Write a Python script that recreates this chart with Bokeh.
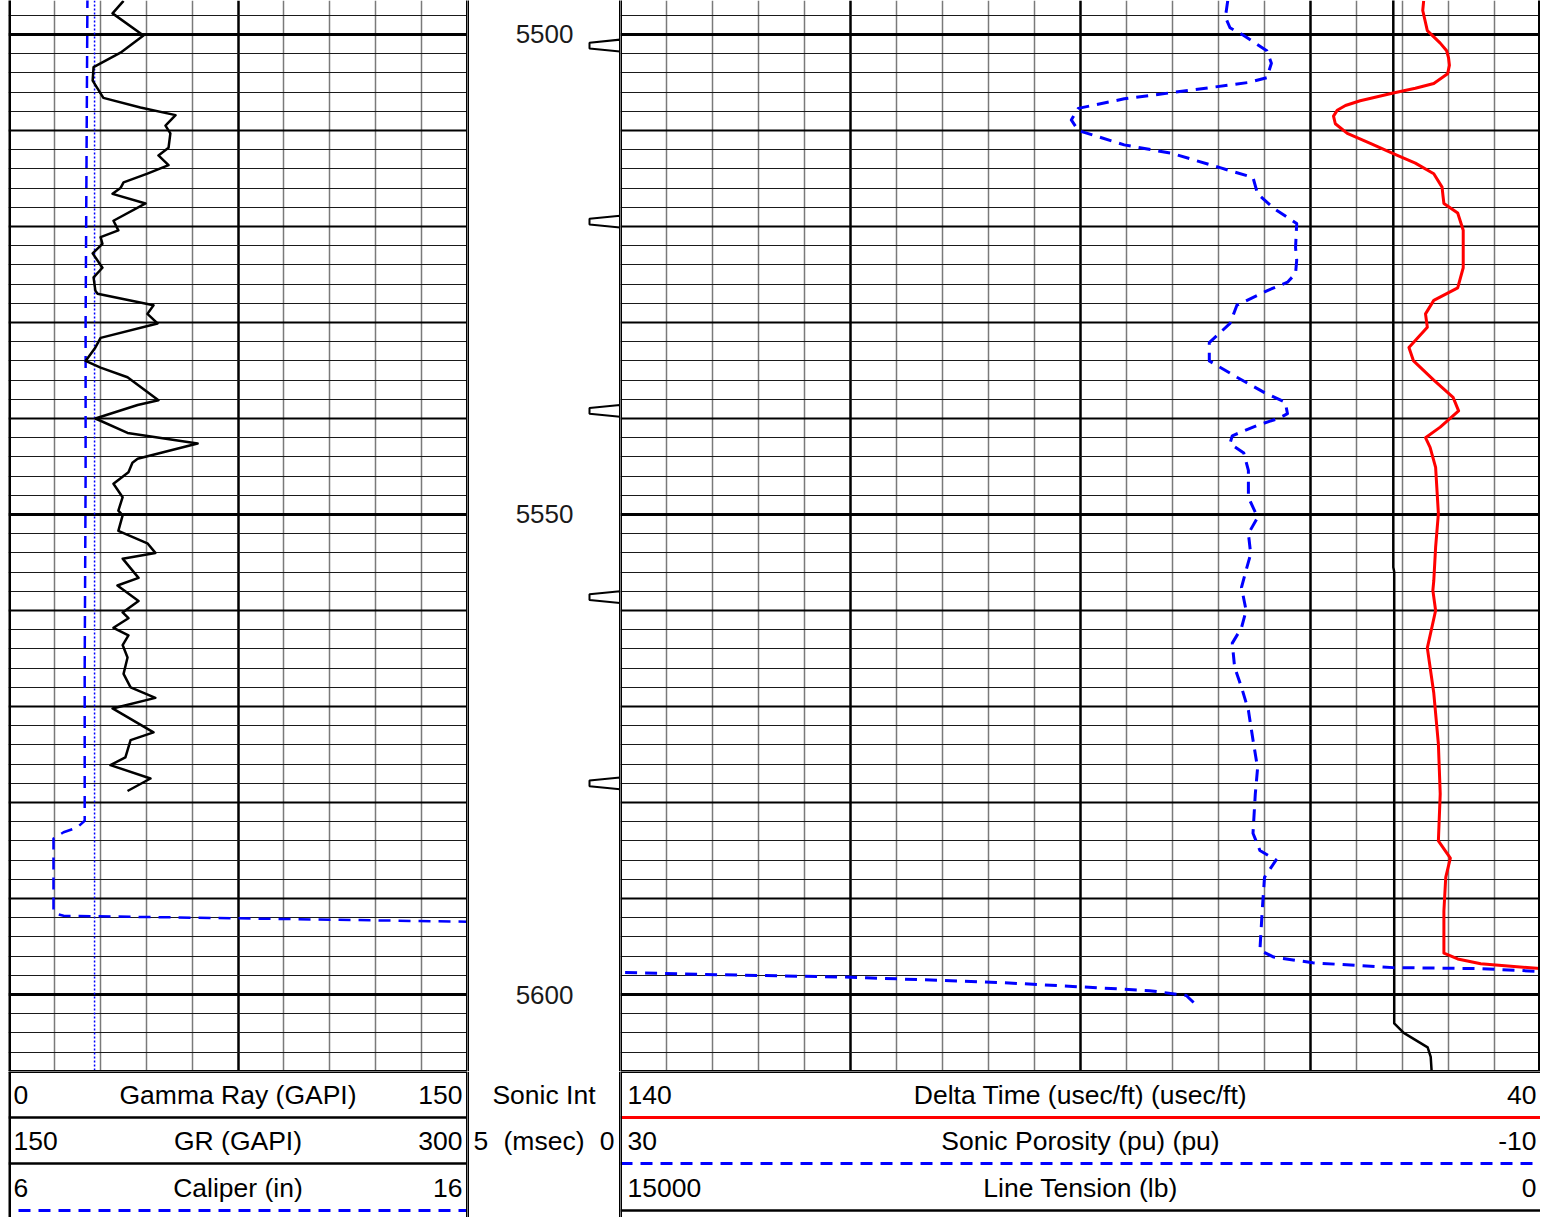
import numpy as np
from bokeh.plotting import figure
from bokeh.models import Range1d, FixedTicker, Grid
from bokeh.layouts import row, column
from bokeh.embed import file_html
from bokeh.resources import INLINE
from bokeh.core.properties import value

# ---------------- data ----------------
DEPTH_TOP = 5496.46
DEPTH_BOTTOM = 5608.02
DEPTH_LABELS = [5500, 5550, 5600]

GR_SCALE = (0, 150)
GR2_SCALE = (150, 300)
CALI_SCALE = (6, 16)
DT_SCALE = (140, 40)
PHI_SCALE = (30, -10)
TENS_SCALE = (15000, 0)
SONIC_INT_SCALE = (5, 0)

GR_DEPTH = [5496.5, 5497.8, 5500.1, 5501.9, 5503.4, 5504.8, 5506.6, 5507.6, 5508.4, 5509.5,
            5510.3, 5511.8, 5512.6, 5513.6, 5514.5, 5515.4, 5516.0, 5516.6, 5517.6, 5519.4,
            5520.4, 5521.1, 5521.8, 5522.8, 5524.3, 5525.3, 5526.7, 5527.0, 5528.2, 5529.1,
            5530.1, 5531.6, 5532.6, 5534.0, 5534.7, 5535.7, 5538.1, 5538.6, 5540.0, 5541.5,
            5542.6, 5544.2, 5544.6, 5545.6, 5546.8, 5548.2, 5549.6, 5550.1, 5551.7, 5553.0,
            5554.0, 5554.6, 5556.6, 5557.4, 5559.0, 5560.2, 5560.8, 5561.8, 5562.6, 5563.6,
            5564.9, 5566.6, 5568.0, 5569.1, 5570.2, 5572.7, 5573.5, 5575.3, 5576.1, 5577.5,
            5578.8]
GR_VALUE = [37.6, 34.0, 44.1, 36.6, 27.8, 27.5, 31.0, 43.1, 54.6, 51.3,
            52.9, 52.3, 49.0, 52.3, 45.4, 37.6, 36.6, 34.0, 44.8, 34.3,
            35.9, 30.1, 30.7, 27.5, 30.7, 27.8, 28.4, 29.1, 47.4, 45.4,
            48.7, 30.1, 28.4, 25.2, 30.1, 38.9, 49.0, 42.2, 28.4, 38.9,
            61.8, 42.2, 40.5, 39.2, 34.3, 37.3, 35.9, 37.3, 35.9, 45.4,
            48.0, 37.3, 42.5, 35.6, 42.5, 37.3, 39.2, 34.3, 39.2, 37.3,
            38.9, 37.6, 39.9, 48.0, 34.0, 47.4, 39.9, 38.2, 33.3, 46.4,
            38.9]

CALI_DEPTH = [5496.0, 5513.0, 5530.0, 5546.0, 5566.0, 5581.9, 5582.6, 5583.1, 5583.75,
              5591.3, 5591.6, 5591.8, 5593.4]
CALI_VALUE = [7.72, 7.70, 7.68, 7.68, 7.66, 7.66, 7.5, 7.2, 6.98,
              6.98, 7.05, 7.2, 30.0]
BIT_SIZE = 7.875

DT_DEPTH = [5496.5, 5497.5, 5499.6, 5500.9, 5501.7, 5502.4, 5503.2, 5504.1, 5505.1, 5505.6,
            5506.1, 5506.9, 5507.4, 5507.9, 5508.5, 5509.3, 5510.3, 5511.35, 5512.4, 5513.4,
            5514.5, 5515.9, 5516.8, 5517.6, 5518.6, 5520.4, 5522.5, 5524.3,
            5526.4, 5527.7, 5529.1, 5530.5, 5532.6, 5534.0, 5536.0, 5537.8, 5539.2, 5540.9,
            5542.0, 5543.0, 5545.1, 5549.9, 5553.4, 5556.9, 5557.9, 5560.0, 5563.9, 5568.6,
            5573.9, 5579.1, 5584.0, 5585.8, 5587.8, 5591.3, 5595.7, 5596.3, 5596.8, 5597.3,
            5597.7]
DT_VALUE = [52.7, 52.8, 52.3, 50.9, 50.2, 50.0, 49.9, 50.1, 51.6, 53.6,
            56.0, 59.6, 61.2, 62.1, 62.5, 62.3, 61.0, 58.5, 56.0, 53.6,
            51.6, 50.7, 50.6, 50.5, 49.0, 48.4, 48.4, 48.4,
            49.0, 51.6, 52.5, 52.3, 54.3, 53.8, 51.6, 49.5, 48.9, 50.9,
            52.5, 52.0, 51.4, 51.1, 51.4, 51.6, 51.7, 51.4, 52.3, 51.6,
            51.1, 50.9, 51.1, 49.8, 50.3, 50.5, 50.5, 49.0, 46.5, 40.0,
            30.0]

PHI_DEPTH = [5496.5, 5498.2, 5499.3, 5500.1, 5501.7, 5503.0, 5504.5, 5505.0, 5505.8, 5506.7,
             5507.7, 5508.9, 5510.0, 5511.5, 5512.4, 5513.9, 5514.9, 5516.6, 5518.1, 5519.7,
             5522.2, 5523.5, 5524.9, 5525.8, 5526.7, 5528.2, 5530.1, 5532.1, 5534.0, 5535.7,
             5537.3, 5538.3, 5539.5, 5540.0, 5540.7, 5541.8, 5542.6, 5543.6, 5545.4, 5548.2,
             5550.3, 5552.0, 5554.1, 5555.8, 5557.6, 5560.0, 5561.8, 5563.4, 5565.9, 5568.0,
             5570.4, 5573.5, 5576.4, 5579.1, 5583.2, 5585.0, 5586.0, 5587.8, 5591.3, 5595.4,
             5596.1, 5596.7, 5597.2, 5597.3, 5597.6,
             5597.7, 5597.9, 5598.2, 5598.75, 5599.2, 5599.6, 5600.1, 5601.25]
PHI_VALUE = [3.6, 3.7, 3.5, 2.9, 1.9, 1.7, 1.9, 2.7, 5.2, 8.1,
             10.1, 10.4, 10.1, 8.1, 6.0, 3.9, 2.5, 2.3, 1.6, 0.6,
             0.65, 0.6, 0.65, 1.0, 1.9, 3.2, 3.5, 4.4, 4.4, 3.2,
             2.0, 1.1, 1.0, 1.4, 2.3, 3.4, 3.5, 2.9, 2.7, 2.7,
             2.3, 2.7, 2.6, 2.8, 3.0, 2.8, 3.0, 3.4, 3.3, 3.0,
             2.7, 2.5, 2.3, 2.4, 2.5, 2.2, 1.5, 2.0, 2.1, 2.2,
             1.6, -0.1, -3.6, -7.4, -10.0,
             -10.2, -13.5, -20.0, -26.5, -30.0, -33.0, -34.6, -35.1]

TENS_DEPTH = [5496.0, 5555.5, 5556.0, 5603.0, 5604.0, 5605.5, 5606.5, 5608.5]
TENS_VALUE = [2400, 2400, 2385, 2385, 2230, 1840, 1790, 1770]

SONIC_INT_MARKS = [5501.15, 5519.5, 5539.2, 5558.6, 5578.0]

LEFT_HEADER = [(GR_SCALE, "Gamma Ray (GAPI)"), (GR2_SCALE, "GR (GAPI)"), (CALI_SCALE, "Caliper (in)")]
RIGHT_HEADER = [(DT_SCALE, "Delta Time (usec/ft) (usec/ft)"),
                (PHI_SCALE, "Sonic Porosity (pu) (pu)"),
                (TENS_SCALE, "Line Tension (lb)")]
SONIC_INT_TITLE = "Sonic Int"
SONIC_INT_UNIT = "(msec)"

# ---------------- styling ----------------
FONT = value("Liberation Sans")
FS = value("26.5px")
BLUE = "#0000ff"
RED = "#ff0000"
DASH = "12 8"
PAD = 8

W_LEFT, W_DEPTH, W_RIGHT = 459, 153, 920
H_TRACK, H_HEAD = 1071, 146


def base_fig(width, height, x_range, y_range, pad=0):
    p = figure(width=width + pad, height=height, x_range=x_range, y_range=y_range,
               x_axis_type=None, y_axis_type=None, toolbar_location=None,
               output_backend="svg", min_border=0, min_border_left=pad,
               outline_line_color=None,
               background_fill_color="white", border_fill_color="white")
    return p


def add_depth_grid(p):
    thin = [d for d in range(5498, 5608, 2) if d % 10 != 0]
    med = [d for d in range(5510, 5608, 10) if d % 50 != 0]
    thick = [d for d in range(5500, 5608, 50)]
    p.add_layout(Grid(dimension=1, ticker=FixedTicker(ticks=thin),
                      grid_line_color="#1a1a1a", grid_line_width=1))
    p.add_layout(Grid(dimension=1, ticker=FixedTicker(ticks=med),
                      grid_line_color="#000000", grid_line_width=2))
    p.add_layout(Grid(dimension=1, ticker=FixedTicker(ticks=thick),
                      grid_line_color="#000000", grid_line_width=3))


def add_vgrid(p, thin, bold):
    p.add_layout(Grid(dimension=0, ticker=FixedTicker(ticks=thin),
                      grid_line_color="#7a7a7a", grid_line_width=1.5))
    p.add_layout(Grid(dimension=0, ticker=FixedTicker(ticks=bold),
                      grid_line_color="#000000", grid_line_width=2.5))


# ---------------- left track ----------------
left = base_fig(W_LEFT, H_TRACK, Range1d(*GR_SCALE), Range1d(DEPTH_BOTTOM, DEPTH_TOP), PAD)
left.extra_x_ranges = {"cali": Range1d(*CALI_SCALE)}
step = (GR_SCALE[1] - GR_SCALE[0]) / 10
left_lines = [GR_SCALE[0] + i * step for i in range(1, 10)]
add_vgrid(left, [v for i, v in enumerate(left_lines) if i != 4], [left_lines[4]])
add_depth_grid(left)
left.line(x=[BIT_SIZE, BIT_SIZE], y=[DEPTH_TOP - 5, DEPTH_BOTTOM + 5], x_range_name="cali",
          line_color=BLUE, line_width=1.5, line_dash="2 2")
left.line(x=CALI_VALUE, y=CALI_DEPTH, x_range_name="cali", line_color=BLUE,
          line_width=2.5, line_dash=DASH, line_join="round")
left.line(x=GR_VALUE, y=GR_DEPTH, line_color="black", line_width=2.5, line_join="round")
left.segment(x0=[GR_SCALE[0]], y0=[DEPTH_TOP - 5], x1=[GR_SCALE[0]], y1=[DEPTH_BOTTOM + 5],
             line_color="black", line_width=5)
left.segment(x0=[GR_SCALE[1]], y0=[DEPTH_TOP - 5], x1=[GR_SCALE[1]], y1=[DEPTH_BOTTOM + 5],
             line_color="black", line_width=3)
left.segment(x0=[GR_SCALE[0]], y0=[DEPTH_BOTTOM], x1=[GR_SCALE[1]], y1=[DEPTH_BOTTOM],
             line_color="black", line_width=3)

# ---------------- depth track ----------------
depth = base_fig(W_DEPTH, H_TRACK, Range1d(0, W_DEPTH), Range1d(DEPTH_BOTTOM, DEPTH_TOP))
depth.text(x=[106] * len(DEPTH_LABELS), y=DEPTH_LABELS, text=[str(d) for d in DEPTH_LABELS],
           text_font=FONT, text_font_size=value("26px"), text_align="right",
           text_baseline="middle", text_color="#1a1a1a")
xs = [[122, 153, 153, 122] for _ in SONIC_INT_MARKS]
ys = [[d - 0.3, d - 0.62, d + 0.62, d + 0.3] for d in SONIC_INT_MARKS]
depth.patches(xs, ys, fill_color="white", line_color="black", line_width=2)
for xb in (0, W_DEPTH):
    depth.segment(x0=[xb], y0=[DEPTH_TOP - 5], x1=[xb], y1=[DEPTH_BOTTOM + 5],
                  line_color="black", line_width=3)

# ---------------- right track ----------------
right = base_fig(W_RIGHT, H_TRACK, Range1d(*DT_SCALE), Range1d(DEPTH_BOTTOM, DEPTH_TOP))
right.extra_x_ranges = {"phi": Range1d(*PHI_SCALE), "tens": Range1d(*TENS_SCALE)}
dstep = (DT_SCALE[1] - DT_SCALE[0]) / 20
r_lines = [DT_SCALE[0] + i * dstep for i in range(1, 20)]
add_vgrid(right, [v for i, v in enumerate(r_lines) if (i + 1) % 5 != 0],
          [v for i, v in enumerate(r_lines) if (i + 1) % 5 == 0])
add_depth_grid(right)

right.line(x=TENS_VALUE, y=TENS_DEPTH, x_range_name="tens", line_color="black",
           line_width=2.5, line_join="round")

phi = np.array(PHI_VALUE)
phd = np.array(PHI_DEPTH)
wrap = phi < PHI_SCALE[1]
span = PHI_SCALE[0] - PHI_SCALE[1]
right.line(x=phi[~wrap], y=phd[~wrap], x_range_name="phi", line_color=BLUE,
           line_width=3, line_dash=DASH, line_join="round")
right.line(x=phi[wrap] + span, y=phd[wrap], x_range_name="phi", line_color=BLUE,
           line_width=3, line_dash=DASH, line_join="round")
right.line(x=DT_VALUE, y=DT_DEPTH, line_color=RED, line_width=3, line_join="round")

right.segment(x0=[DT_SCALE[0]], y0=[DEPTH_TOP - 5], x1=[DT_SCALE[0]], y1=[DEPTH_BOTTOM + 5],
              line_color="black", line_width=3)
right.segment(x0=[DT_SCALE[1]], y0=[DEPTH_TOP - 5], x1=[DT_SCALE[1]], y1=[DEPTH_BOTTOM + 5],
              line_color="black", line_width=5)
right.segment(x0=[DT_SCALE[0]], y0=[DEPTH_BOTTOM], x1=[DT_SCALE[1]], y1=[DEPTH_BOTTOM],
              line_color="black", line_width=3)

# ---------------- headers ----------------
ROW_Y = [23, 69, 116]
LINE_Y = [46, 92, 139]


def header_fig(width, pad=0):
    return base_fig(width, H_HEAD, Range1d(0, width), Range1d(H_HEAD, 0), pad)


def fmt(v):
    return str(int(v)) if float(v).is_integer() else str(v)


def header_rows(p, width, rows, styles, lx, rx):
    for (scale, name), y, ly, st in zip(rows, ROW_Y, LINE_Y, styles):
        p.text(x=[lx], y=[y], text=[fmt(scale[0])], text_font=FONT, text_font_size=FS,
               text_align="left", text_baseline="middle", text_color="black")
        p.text(x=[width / 2], y=[y], text=[name], text_font=FONT, text_font_size=FS,
               text_align="center", text_baseline="middle", text_color="black")
        p.text(x=[rx], y=[y], text=[fmt(scale[1])], text_font=FONT, text_font_size=FS,
               text_align="right", text_baseline="middle", text_color="black")
        color, lw, dash, x0 = st
        p.line(x=[x0, width], y=[ly, ly], line_color=color, line_width=lw, line_dash=dash)


lh = header_fig(W_LEFT, PAD)
header_rows(lh, W_LEFT, LEFT_HEADER,
            [("black", 2.5, "solid", 0), ("black", 2.5, "solid", 0), (BLUE, 3, DASH, 10)],
            5, 454)
lh.segment(x0=[0], y0=[0], x1=[0], y1=[H_HEAD], line_color="black", line_width=5)
lh.segment(x0=[W_LEFT], y0=[0], x1=[W_LEFT], y1=[H_HEAD], line_color="black", line_width=3)
lh.segment(x0=[0], y0=[0], x1=[W_LEFT], y1=[0], line_color="black", line_width=3)

dh = header_fig(W_DEPTH)
dh.text(x=[W_DEPTH / 2], y=[ROW_Y[0]], text=[SONIC_INT_TITLE], text_font=FONT, text_font_size=FS,
        text_align="center", text_baseline="middle", text_color="black")
dh.text(x=[6], y=[ROW_Y[1]], text=[fmt(SONIC_INT_SCALE[0])], text_font=FONT, text_font_size=FS,
        text_align="left", text_baseline="middle", text_color="black")
dh.text(x=[W_DEPTH / 2], y=[ROW_Y[1]], text=[SONIC_INT_UNIT], text_font=FONT, text_font_size=FS,
        text_align="center", text_baseline="middle", text_color="black")
dh.text(x=[147], y=[ROW_Y[1]], text=[fmt(SONIC_INT_SCALE[1])], text_font=FONT, text_font_size=FS,
        text_align="right", text_baseline="middle", text_color="black")
for xb in (0, W_DEPTH):
    dh.segment(x0=[xb], y0=[0], x1=[xb], y1=[H_HEAD], line_color="black", line_width=3)

rh = header_fig(W_RIGHT)
header_rows(rh, W_RIGHT, RIGHT_HEADER,
            [(RED, 3, "solid", 0), (BLUE, 3, DASH, 0), ("black", 2.5, "solid", 0)],
            7, 916)
rh.segment(x0=[0], y0=[0], x1=[0], y1=[H_HEAD], line_color="black", line_width=3)
rh.segment(x0=[0], y0=[0], x1=[W_RIGHT], y1=[0], line_color="black", line_width=3)

layout = row(column(left, lh), column(depth, dh), column(right, rh))
open("out.html", "w").write(file_html(layout, INLINE, "Well log"))
